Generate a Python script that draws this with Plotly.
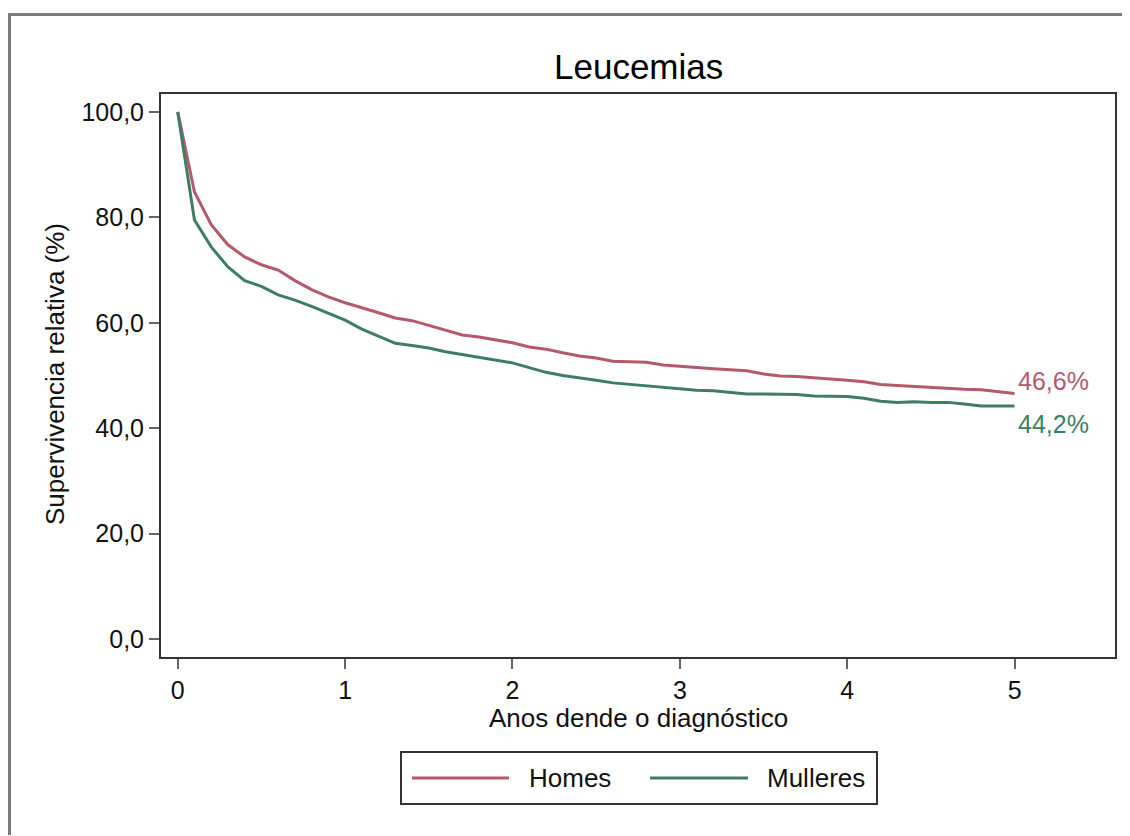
import plotly.graph_objects as go

# ---------------- data ----------------
years = [0.0, 0.1, 0.2, 0.3, 0.4, 0.5, 0.6, 0.7, 0.8, 0.9,
         1.0, 1.1, 1.2, 1.3, 1.4, 1.5, 1.6, 1.7, 1.8, 1.9,
         2.0, 2.1, 2.2, 2.3, 2.4, 2.5, 2.6, 2.7, 2.8, 2.9,
         3.0, 3.1, 3.2, 3.3, 3.4, 3.5, 3.6, 3.7, 3.8, 3.9,
         4.0, 4.1, 4.2, 4.3, 4.4, 4.5, 4.6, 4.7, 4.8, 4.9, 5.0]

homes = [100.0, 84.8, 78.6, 74.8, 72.5, 71.0, 70.0, 68.0, 66.3, 64.9,
         63.8, 62.9, 61.9, 60.9, 60.4, 59.5, 58.6, 57.7, 57.3, 56.8,
         56.2, 55.4, 55.0, 54.3, 53.7, 53.3, 52.7, 52.6, 52.5, 52.0,
         51.7, 51.5, 51.3, 51.1, 50.9, 50.3, 49.9, 49.8, 49.6, 49.3,
         49.1, 48.8, 48.3, 48.1, 47.9, 47.7, 47.5, 47.4, 47.3, 47.0, 46.6]

mulleres = [100.0, 79.5, 74.4, 70.6, 68.0, 66.9, 65.3, 64.3, 63.1, 61.8,
            60.5, 58.8, 57.4, 56.1, 55.7, 55.2, 54.5, 54.0, 53.5, 53.0,
            52.4, 51.5, 50.6, 50.0, 49.6, 49.1, 48.6, 48.3, 48.0, 47.7,
            47.4, 47.2, 47.1, 46.8, 46.5, 46.5, 46.5, 46.4, 46.1, 46.0,
            46.0, 45.7, 45.1, 44.9, 45.0, 44.9, 44.9, 44.6, 44.2, 44.2, 44.2]

series_names = ["Homes", "Mulleres"]
end_labels = ["46,6%", "44,2%"]

x_tickvals = [0, 1, 2, 3, 4, 5]
x_ticktext = ["0", "1", "2", "3", "4", "5"]
y_tickvals = [0, 20, 40, 60, 80, 100]
y_ticktext = ["0,0", "20,0", "40,0", "60,0", "80,0", "100,0"]

title_text = "Leucemias"
x_title = "Anos dende o diagnóstico"
y_title = "Supervivencia relativa (%)"

# ---------------- style ----------------
OFF = 8                     # page body margin in the browser
W, H = 1130 - OFF, 836 - OFF
# plot-area edges in screen pixels
SL, SR, ST, SB = 161, 1115, 94, 657
L, R, T, B = SL - OFF, SR - OFF, ST - OFF, SB - OFF
FONT = "Liberation Sans, Arial, sans-serif"
RED = "#b5596a"
GREEN = "#3d7e63"
colors = [RED, GREEN]


def px(x):
    """screen x pixel -> paper coordinate"""
    return (x - SL) / (SR - SL)


def py(y):
    """screen y pixel -> paper coordinate"""
    return (SB - y) / (SB - ST)


fig = go.Figure()
for name, vals, col in zip(series_names, [homes, mulleres], colors):
    fig.add_trace(go.Scatter(x=years, y=vals, mode="lines", name=name,
                             line=dict(color=col, width=3), showlegend=False))

axis_common = dict(
    ticks="outside", ticklen=10, tickwidth=2, tickcolor="#666",
    showline=True, linecolor="#333", linewidth=2, mirror=True,
    showgrid=False, zeroline=False,
    tickfont=dict(size=25, color="#111", family=FONT),
)
fig.update_xaxes(range=[-0.1, 5.6], tickvals=x_tickvals, ticktext=x_ticktext,
                 **axis_common)
fig.update_yaxes(range=[-3.4, 103.4], tickvals=y_tickvals, ticktext=y_ticktext,
                 **axis_common)

annotations = [
    dict(text=title_text, xref="paper", yref="paper", x=px(638), y=py(66),
         xanchor="center", yanchor="middle", showarrow=False,
         font=dict(size=35, color="#000", family=FONT)),
    dict(text=x_title, xref="paper", yref="paper", x=px(638), y=py(718),
         xanchor="center", yanchor="middle", showarrow=False,
         font=dict(size=26, color="#111", family=FONT)),
    dict(text=y_title, xref="paper", yref="paper", x=px(55), y=py(374),
         xanchor="center", yanchor="middle", showarrow=False, textangle=-90,
         font=dict(size=26, color="#111", family=FONT)),
]
# end-of-curve labels
for lab, vals, col, ys in zip(end_labels, [homes, mulleres], colors, [12, -18]):
    annotations.append(dict(text=lab, x=years[-1], y=vals[-1], xref="x", yref="y",
                            xanchor="left", yanchor="middle", xshift=1, yshift=ys,
                            showarrow=False,
                            font=dict(size=25, color=col, family=FONT)))
# manual legend text
leg_text_x = [527, 765]
for name, lx in zip(series_names, leg_text_x):
    annotations.append(dict(text=name, xref="paper", yref="paper", x=px(lx), y=py(778),
                            xanchor="left", yanchor="middle", showarrow=False,
                            font=dict(size=26, color="#111", family=FONT)))

shapes = [
    # outer frame (gray): top and left edges only are visible
    dict(type="line", xref="paper", yref="paper", x0=px(8), y0=py(14.5),
         x1=px(1129), y1=py(14.5), line=dict(color="#7a7a7a", width=3)),
    dict(type="line", xref="paper", yref="paper", x0=px(9.5), y0=py(13),
         x1=px(9.5), y1=py(835), line=dict(color="#7a7a7a", width=3)),
    # legend box
    dict(type="rect", xref="paper", yref="paper", x0=px(401), y0=py(752),
         x1=px(877), y1=py(804), line=dict(color="#333", width=2),
         fillcolor="white"),
]
leg_line_x = [(412, 509), (650, 748)]
for (a, b), col in zip(leg_line_x, colors):
    shapes.append(dict(type="line", xref="paper", yref="paper", x0=px(a), x1=px(b),
                       y0=py(778), y1=py(778), line=dict(color=col, width=3)))

fig.update_layout(
    width=W, height=H,
    margin=dict(l=L, r=W - R, t=T, b=H - B),
    plot_bgcolor="white", paper_bgcolor="white",
    font=dict(family=FONT, color="#111"),
    showlegend=False,
    annotations=annotations,
    shapes=shapes,
)

fig.write_html("out.html")
